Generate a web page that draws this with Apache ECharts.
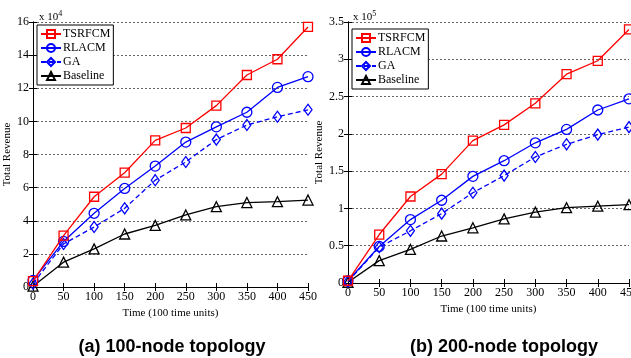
<!DOCTYPE html>
<html>
<head>
<meta charset="utf-8">
<script src="https://cdn.jsdelivr.net/npm/echarts@6/dist/echarts.min.js"></script>
<style>
  html, body { margin: 0; padding: 0; background: #fff; }
  #chart { width: 631px; height: 358px; }
</style>
</head>
<body>
<div id="chart"></div>
<script>
const times = [0, 50, 100, 150, 200, 250, 300, 350, 400, 450]
const seriesNames = ["TSRFCM", "RLACM", "GA", "Baseline"]

// (a) 100-node topology, units of 10^4
const tsrfcmA = [0.35, 3.1, 5.45, 6.9, 8.85, 9.6, 10.95, 12.8, 13.75, 15.7]
const rlacmA = [0.4, 2.75, 4.45, 5.95, 7.3, 8.75, 9.67, 10.55, 12.05, 12.7]
const gaA = [0.2, 2.6, 3.62, 4.75, 6.45, 7.55, 8.9, 9.78, 10.28, 10.7]
const baselineA = [0.05, 1.5, 2.3, 3.2, 3.72, 4.35, 4.85, 5.1, 5.15, 5.25]

// (b) 200-node topology, units of 10^5
const tsrfcmB = [0.03, 0.65, 1.16, 1.46, 1.91, 2.12, 2.41, 2.8, 2.98, 3.4]
const rlacmB = [0.03, 0.49, 0.85, 1.11, 1.43, 1.64, 1.88, 2.06, 2.32, 2.47]
const gaB = [0.02, 0.48, 0.7, 0.93, 1.21, 1.44, 1.69, 1.86, 1.99, 2.09]
const baselineB = [0.01, 0.3, 0.45, 0.63, 0.74, 0.86, 0.95, 1.01, 1.03, 1.05]

const serif = "Liberation Serif"
const styles = {
  TSRFCM: { color: "#ff0000", symbol: "rect", size: 9, dash: "solid" },
  RLACM: { color: "#0000ff", symbol: "circle", size: 10, dash: "solid" },
  GA: { color: "#0000ff", symbol: "diamond", size: [8, 11], dash: [5, 3] },
  Baseline: { color: "#000000", symbol: "triangle", size: 10, dash: "solid" },
}

const chart = echarts.init(document.getElementById("chart"))

function makeSeries(name, values, gridIndex) {
  const s = styles[name]
  return {
    name,
    type: "line",
    xAxisIndex: gridIndex * 2,
    yAxisIndex: gridIndex * 2,
    data: times.map((t, i) => [t, values[i]]),
    symbol: s.symbol,
    symbolSize: s.size,
    showAllSymbol: true,
    lineStyle: { color: s.color, width: 1.3, type: s.dash },
    itemStyle: { color: "rgba(255,255,255,0)", borderColor: s.color, borderWidth: 1.3 },
    z: 5 - seriesNames.indexOf(name),
  }
}

function xAxes(gridIndex) {
  return [
    {
      gridIndex,
      type: "value",
      min: 0,
      max: 450,
      interval: 50,
      position: "bottom",
      axisLine: { lineStyle: { color: "#000", width: 1 } },
      axisTick: { inside: true, length: 4, lineStyle: { color: "#000" } },
      axisLabel: { fontFamily: serif, fontSize: 12, color: "#000", margin: 4 },
      splitLine: { show: false },
      name: "Time (100 time units)",
      nameLocation: "middle",
      nameGap: 17,
      nameTextStyle: { fontFamily: serif, fontSize: 11, color: "#000" },
    },
    {
      gridIndex,
      type: "value",
      min: 0,
      max: 450,
      interval: 50,
      position: "top",
      axisLine: { lineStyle: { color: "#000", width: 1 } },
      axisTick: { inside: true, length: 4, lineStyle: { color: "#000" } },
      axisLabel: { show: false },
      splitLine: { show: false },
    },
  ]
}

function yAxes(gridIndex, max, interval) {
  return [
    {
      gridIndex,
      type: "value",
      min: 0,
      max,
      interval,
      position: "left",
      axisLine: { show: true, lineStyle: { color: "#000", width: 1 } },
      axisTick: { show: true, inside: true, length: 4, lineStyle: { color: "#000" } },
      axisLabel: { fontFamily: serif, fontSize: 12, color: "#000", margin: 4 },
      splitLine: { show: true, lineStyle: { color: "#666", type: [2, 2], width: 1 } },
      name: "Total Revenue",
      nameLocation: "middle",
      nameRotate: 90,
      nameGap: gridIndex === 0 ? 14 : 20,
      nameTextStyle: { fontFamily: serif, fontSize: 11, color: "#000" },
    },
    {
      gridIndex,
      type: "value",
      min: 0,
      max,
      interval,
      position: "right",
      axisLine: { show: true, lineStyle: { color: "#000", width: 1 } },
      axisTick: { show: true, inside: true, length: 4, lineStyle: { color: "#000" } },
      axisLabel: { show: false },
      splitLine: { show: false },
    },
  ]
}

function legend(left, top) {
  return {
    left,
    top,
    orient: "vertical",
    data: seriesNames,
    backgroundColor: "#fff",
    borderColor: "#000",
    borderWidth: 1,
    borderRadius: 0,
    padding: [3, 3, 3, 3],
    itemGap: 2,
    itemWidth: 20,
    itemHeight: 10,
    selectedMode: false,
    textStyle: { fontFamily: serif, fontSize: 12, color: "#000", padding: [0, 0, 0, -3] },
  }
}

const option = {
  animation: false,
  backgroundColor: "#fff",
  title: [
    {
      text: "x 10{s|4}",
      left: 34,
      top: 5,
      textStyle: { fontFamily: serif, fontSize: 11, fontWeight: "normal", color: "#000",
        rich: { s: { fontFamily: serif, fontSize: 8, verticalAlign: "top", padding: [0, 0, 6, 0] } } },
    },
    {
      text: "x 10{s|5}",
      left: 348,
      top: 5,
      textStyle: { fontFamily: serif, fontSize: 11, fontWeight: "normal", color: "#000",
        rich: { s: { fontFamily: serif, fontSize: 8, verticalAlign: "top", padding: [0, 0, 6, 0] } } },
    },
    {
      text: "(a) 100-node topology",
      left: 167,
      top: 333,
      textAlign: "center",
      textStyle: { fontFamily: "Liberation Sans", fontSize: 18, fontWeight: "bold", color: "#000" },
    },
    {
      text: "(b) 200-node topology",
      left: 499,
      top: 333,
      textAlign: "center",
      textStyle: { fontFamily: "Liberation Sans", fontSize: 18, fontWeight: "bold", color: "#000" },
    },
  ],
  legend: [legend(37, 25), legend(352, 29)],
  grid: [
    { left: 33, right: 323, top: 22, bottom: 71, containLabel: false, outerBoundsMode: "none" },
    { left: 348, right: 2, top: 22, bottom: 75, containLabel: false, outerBoundsMode: "none" },
  ],
  xAxis: [...xAxes(0), ...xAxes(1)],
  yAxis: [...yAxes(0, 16, 2), ...yAxes(1, 3.5, 0.5)],
  series: [
    makeSeries("TSRFCM", tsrfcmA, 0),
    makeSeries("RLACM", rlacmA, 0),
    makeSeries("GA", gaA, 0),
    makeSeries("Baseline", baselineA, 0),
    makeSeries("TSRFCM", tsrfcmB, 1),
    makeSeries("RLACM", rlacmB, 1),
    makeSeries("GA", gaB, 1),
    makeSeries("Baseline", baselineB, 1),
  ],
}

chart.setOption(option)
</script>
</body>
</html>
